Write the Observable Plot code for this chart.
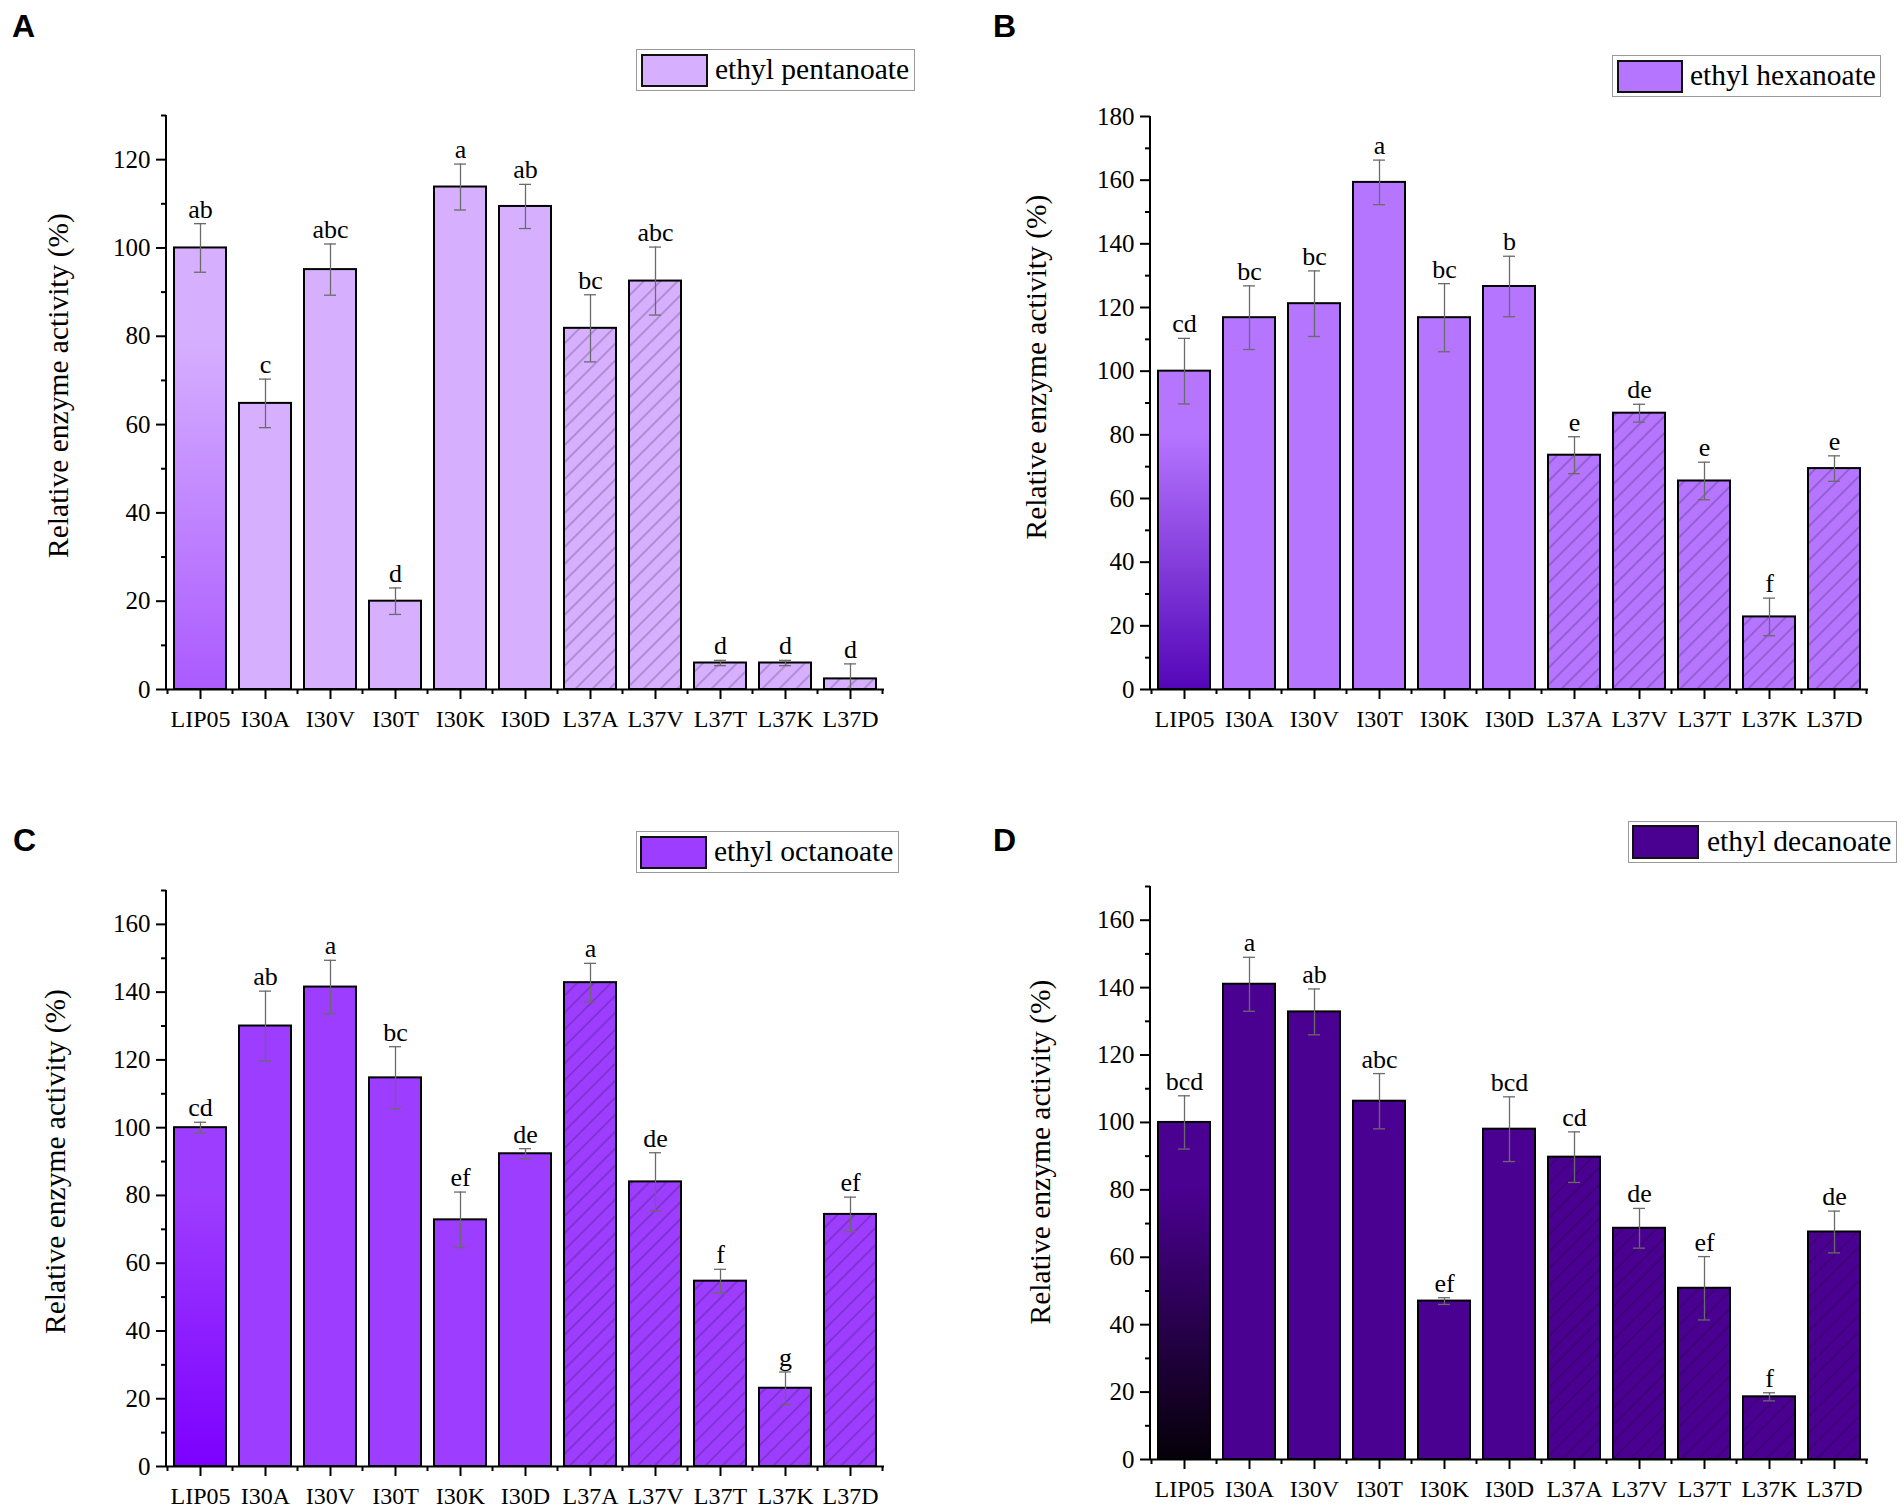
<!DOCTYPE html>
<html><head><meta charset="utf-8">
<script src="https://cdn.jsdelivr.net/npm/d3@7"></script>
<script src="https://cdn.jsdelivr.net/npm/@observablehq/plot@0.6"></script>
<style>
html,body{margin:0;padding:0;background:#fff;}
#fig{position:relative;width:1904px;height:1508px;overflow:hidden;font-family:"Liberation Serif","Times New Roman",serif;background:#fff;}
#fig svg text{font-family:"Liberation Serif","Times New Roman",serif;}
.panel{position:absolute;}
.letter{position:absolute;font-family:"Liberation Sans",Arial,sans-serif;font-weight:bold;font-size:32px;line-height:1;}
.legend{position:absolute;box-sizing:border-box;border:1.5px solid #9a9a9a;background:#fff;}
.legend .sw{position:absolute;box-sizing:border-box;border:2px solid #111;}
.legend .lt{position:absolute;font-size:29.5px;white-space:nowrap;line-height:1;color:#000;}
</style></head>
<body><div id="fig"></div>
<script>
// ---------- data ----------
const categories = ["LIP05","I30A","I30V","I30T","I30K","I30D","L37A","L37V","L37T","L37K","L37D"];

const pentanoate    = [100.0, 64.8, 95.1, 20.0, 113.8, 109.4, 81.8, 92.5, 6.0, 6.0, 2.4];
const pentanoateErr = [5.5, 5.5, 5.8, 3.0, 5.2, 5.0, 7.6, 7.7, 0.6, 0.6, 3.4];
const pentanoateSig = ["ab","c","abc","d","a","ab","bc","abc","d","d","d"];

const hexanoate    = [100.0, 116.8, 121.2, 159.3, 116.8, 126.6, 73.6, 86.8, 65.5, 22.8, 69.4];
const hexanoateErr = [10.3, 10.0, 10.3, 7.0, 10.7, 9.5, 5.8, 2.8, 5.9, 5.9, 4.0];
const hexanoateSig = ["cd","bc","bc","a","bc","b","e","de","e","f","e"];

const octanoate    = [100.0, 130.0, 141.5, 114.7, 72.8, 92.3, 142.8, 84.0, 54.7, 23.1, 74.4];
const octanoateErr = [1.6, 10.3, 7.9, 9.2, 8.2, 1.5, 5.7, 8.6, 3.5, 4.8, 5.1];
const octanoateSig = ["cd","ab","a","bc","ef","de","a","de","f","g","ef"];

const decanoate    = [100.0, 141.0, 132.8, 106.3, 47.0, 98.0, 89.7, 68.6, 50.8, 18.6, 67.5];
const decanoateErr = [7.9, 8.0, 6.8, 8.2, 1.0, 9.6, 7.5, 5.9, 9.4, 1.2, 6.2];
const decanoateSig = ["bcd","a","ab","abc","ef","bcd","cd","de","ef","f","de"];

const ticksA = [0, 20, 40, 60, 80, 100, 120];
const minorA = [10, 30, 50, 70, 90, 110, 130];
const ticksB = [0, 20, 40, 60, 80, 100, 120, 140, 160, 180];
const minorB = [10, 30, 50, 70, 90, 110, 130, 150, 170];
const ticksCD = [0, 20, 40, 60, 80, 100, 120, 140, 160];
const minorCD = [10, 30, 50, 70, 90, 110, 130, 150, 170];

const yTitle = "Relative enzyme activity (%)";

// ---------- layout / style ----------
const panels = [
  {key:"A", name:"ethyl pentanoate", values:pentanoate, err:pentanoateErr, sig:pentanoateSig,
   yMax:130, ticks:ticksA, minor:minorA, color:"#d6b0ff", dark:"#ab5aff",
   left:0, top:0, m:{top:115,right:68,bottom:65,left:166}, tdx:-108, tdy:-17,
   lg:{x:636,y:49,w:279,h:42,sx:4,sy:4,sw:67,sh:33,tx:78}, lt:[12,10]},
  {key:"B", name:"ethyl hexanoate", values:hexanoate, err:hexanoateErr, sig:hexanoateSig,
   yMax:180, ticks:ticksB, minor:minorB, color:"#b575ff", dark:"#5306b8",
   left:952, top:0, m:{top:116,right:36,bottom:65,left:198}, tdx:-114, tdy:-36,
   lg:{x:1612,y:55,w:269,h:42,sx:4,sy:4,sw:66,sh:33,tx:77}, lt:[993,10]},
  {key:"C", name:"ethyl octanoate", values:octanoate, err:octanoateErr, sig:octanoateSig,
   yMax:170, ticks:ticksCD, minor:minorCD, color:"#9d3dff", dark:"#7d00ff",
   left:0, top:754, m:{top:136,right:68,bottom:42,left:166}, tdx:-111, tdy:-17,
   lg:{x:636,y:831,w:263,h:42,sx:3,sy:4,sw:67,sh:33,tx:77}, lt:[13,824]},
  {key:"D", name:"ethyl decanoate", values:decanoate, err:decanoateErr, sig:decanoateSig,
   yMax:170, ticks:ticksCD, minor:minorCD, color:"#4a0090", dark:"#050008",
   left:952, top:754, m:{top:132,right:36,bottom:49,left:198}, tdx:-110, tdy:-21,
   lg:{x:1628,y:821,w:269,h:42,sx:3,sy:3,sw:67,sh:34,tx:78}, lt:[993,824]}
];

const fig = document.getElementById("fig");
const W = 952, H = 754;

function axisExtras() {
  return (index, scales, values, dims) => {
    const x = scales.x;
    const step = x.step ? x.step() : scales.scales.x.step;
    const bw = x.bandwidth ? x.bandwidth() : scales.scales.x.bandwidth;
    const y0 = dims.height - dims.marginBottom;
    const g = d3.create("svg:g").attr("stroke", "#000").attr("fill", "none");
    // left axis line
    g.append("line").attr("x1", dims.marginLeft).attr("x2", dims.marginLeft)
      .attr("y1", dims.marginTop).attr("y2", y0 + 1).attr("stroke-width", 2);
    // minor x ticks at band boundaries
    const gap = (step - bw) / 2;
    const pos = categories.map(c => x(c) - gap);
    pos.push(x(categories[categories.length - 1]) + bw + gap);
    for (const p of pos) {
      g.append("line").attr("x1", p).attr("x2", p).attr("y1", y0).attr("y2", y0 + 5).attr("stroke-width", 2);
    }
    return g.node();
  };
}

panels.forEach(p => {
  const data = categories.map((c, i) => ({
    cat: c, v: p.values[i], e: p.err[i], lab: p.sig[i],
    kind: i === 0 ? "grad" : (c.startsWith("L37") ? "hatch" : "plain")
  }));
  const gid = "grad" + p.key, hid = "hatch" + p.key;
  const plot = Plot.plot({
    width: W, height: H,
    marginTop: p.m.top, marginRight: p.m.right, marginBottom: p.m.bottom, marginLeft: p.m.left,
    style: {fontFamily: '"Liberation Serif","Times New Roman",serif', fontSize: "24px", color: "#000", background: "none", overflow: "visible"},
    x: {domain: categories, paddingInner: 0.2, paddingOuter: 0.1, label: null},
    y: {domain: [0, p.yMax], label: null},
    marks: [
      Plot.barY(data.filter(d => d.kind === "plain"), {x: "cat", y: "v", fill: p.color}),
      Plot.barY(data.filter(d => d.kind === "grad"), {x: "cat", y: "v", fill: `url(#${gid})`}),
      Plot.barY(data.filter(d => d.kind === "hatch"), {x: "cat", y: "v", fill: `url(#${hid})`}),
      Plot.barY(data, {x: "cat", y: "v", fill: "none", stroke: "#000", strokeWidth: 2}),
      Plot.ruleX(data, {x: "cat", y1: d => Math.max(0, d.v - d.e), y2: d => d.v + d.e, stroke: "#6a6a6a", strokeWidth: 1.3}),
      Plot.tickY(data, {x: "cat", y: d => d.v + d.e, stroke: "#6a6a6a", strokeWidth: 1.3, insetLeft: 20, insetRight: 20}),
      Plot.tickY(data.filter(d => d.v - d.e > 0), {x: "cat", y: d => d.v - d.e, stroke: "#6a6a6a", strokeWidth: 1.3, insetLeft: 20, insetRight: 20}),
      Plot.text(data, {x: "cat", y: d => d.v + d.e, text: "lab", dy: -6, lineAnchor: "bottom", fontSize: 26, fill: "#000"}),
      Plot.axisY({ticks: p.ticks, tickSize: 10, tickPadding: 6, strokeWidth: 2, fontSize: 25, label: null}),
      Plot.axisY({ticks: p.minor, tickSize: 5, tickFormat: () => "", strokeWidth: 2, label: null}),
      Plot.axisX({tickSize: 10, tickPadding: 10, strokeWidth: 2, fontSize: 24, label: null}),
      Plot.ruleY([0], {stroke: "#000", strokeWidth: 2}),
      axisExtras(),
      Plot.text([yTitle], {text: d => d, frameAnchor: "left", textAnchor: "middle", lineAnchor: "middle", rotate: -90, dx: p.tdx, dy: p.tdy, fontSize: 29.5, fill: "#000"})
    ]
  });
  const svg = d3.select(plot);
  const defs = svg.insert("defs", ":first-child");
  const lgd = defs.append("linearGradient").attr("id", gid)
    .attr("x1", 0).attr("y1", 0).attr("x2", 0).attr("y2", 1);
  lgd.append("stop").attr("offset", "0%").attr("stop-color", p.color);
  lgd.append("stop").attr("offset", "20%").attr("stop-color", p.color);
  lgd.append("stop").attr("offset", "100%").attr("stop-color", p.dark);
  const pat = defs.append("pattern").attr("id", hid).attr("patternUnits", "userSpaceOnUse")
    .attr("width", 12).attr("height", 12).attr("patternTransform", "rotate(45)");
  pat.append("rect").attr("width", 12).attr("height", 12).attr("fill", p.color);
  pat.append("line").attr("x1", 6).attr("x2", 6).attr("y1", 0).attr("y2", 12)
    .attr("stroke", "#1a0a2a").attr("stroke-opacity", 0.42).attr("stroke-width", 1);

  const wrap = document.createElement("div");
  wrap.className = "panel";
  wrap.style.left = p.left + "px";
  wrap.style.top = p.top + "px";
  wrap.appendChild(plot);
  fig.appendChild(wrap);

  // legend
  const lg = document.createElement("div");
  lg.className = "legend";
  Object.assign(lg.style, {left: p.lg.x + "px", top: p.lg.y + "px", width: p.lg.w + "px", height: p.lg.h + "px"});
  const sw = document.createElement("div");
  sw.className = "sw";
  Object.assign(sw.style, {left: p.lg.sx + "px", top: p.lg.sy + "px", width: p.lg.sw + "px", height: p.lg.sh + "px", background: p.color});
  const lt = document.createElement("div");
  lt.className = "lt";
  lt.textContent = p.name;
  Object.assign(lt.style, {left: p.lg.tx + "px", top: ((p.lg.h - 29.5) / 2 - 1) + "px"});
  lg.appendChild(sw); lg.appendChild(lt);
  fig.appendChild(lg);

  // panel letter
  const L = document.createElement("div");
  L.className = "letter";
  L.textContent = p.key;
  L.style.left = p.lt[0] + "px";
  L.style.top = p.lt[1] + "px";
  fig.appendChild(L);
});
</script></body></html>
